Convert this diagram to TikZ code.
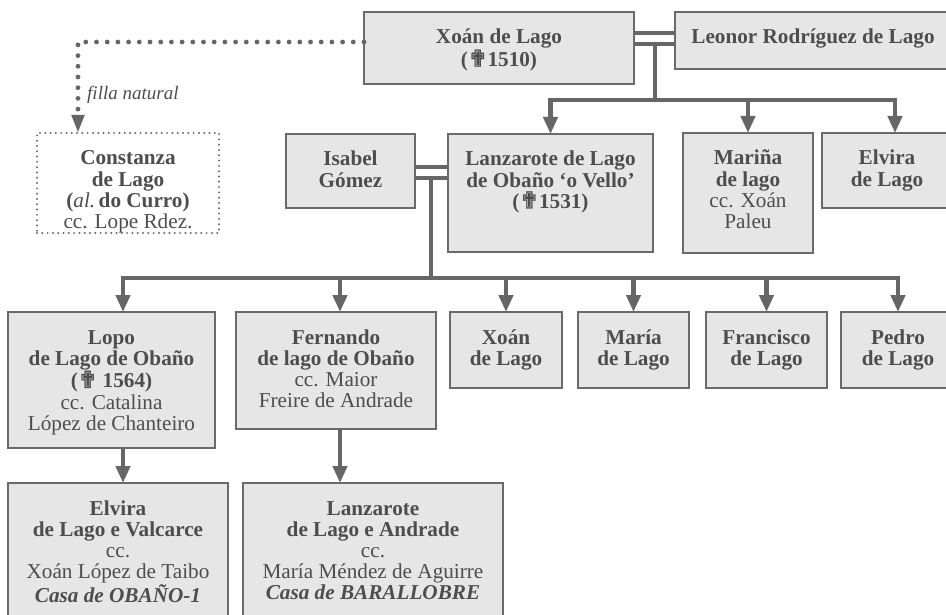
\documentclass[tikz,border=0pt]{standalone}
\usepackage{fontspec}
\setmainfont{Liberation Serif}
\newfontfamily\crossfont{DejaVu Sans}[Scale=1.1, FakeBold=1.2]
\usetikzlibrary{arrows.meta}

\definecolor{boxfill}{HTML}{E6E6E6}
\definecolor{boxline}{HTML}{6A6A6A}
\definecolor{inkc}{HTML}{4D4D4D}
\definecolor{linkc}{HTML}{666666}

% obituary cross
\newcommand\dcross{{\crossfont ✟}}
% fixed-size cell, text hung from the top edge
\newcommand\famcell[3]{\parbox[c][#2][t]{#1}{\centering\rule{0pt}{32pt}#3\par}}

\tikzset{
  famb/.style={draw=boxline, fill=boxfill, line width=2.4pt, inner sep=0pt,
    outer sep=0pt, anchor=north west, text=inkc,
    font=\fontsize{21.2}{21.2}\selectfont\bfseries},
  natb/.style={famb, fill=none, draw=boxline, line width=2.2pt,
    dash pattern=on 0pt off 5.3pt, line cap=round},
  link/.style={draw=linkc, line width=4.6pt},
  kin/.style={link, -{Triangle[width=14pt,length=17pt]}},
  wed/.style={draw=linkc, line width=4.3pt},
  natl/.style={draw=linkc, line width=4.8pt, dash pattern=on 0pt off 10.7pt,
    line cap=round, -{Triangle[width=12pt,length=18pt]}},
}

\begin{document}
\begin{tikzpicture}[x=1pt,y=-1pt]
\useasboundingbox[fill=white] (0,0) rectangle (946,615);

% generation I
\node[famb] (x0) at (364,12) {\famcell{270pt}{72pt}{Xoán de Lago\\(\dcross1510)}};
\node[famb] (l0) at (675,12) {\famcell{276pt}{57pt}{Leonor Rodríguez de Lago}};

% generation II
\node[natb] (cz) at (37,133) {\famcell{182pt}{100pt}{Constanza\\de Lago\\(\textit{\mdseries al.}\,do Curro)\\\mdseries cc. Lope Rdez.}};
\node[famb] (ig) at (286,134) {\famcell{129pt}{74pt}{Isabel\\Gómez}};
\node[famb] (lz) at (448,134) {\famcell{205pt}{118pt}{Lanzarote de Lago\\de Obaño ‘o Vello’\\(\dcross1531)}};
\node[famb] (ma) at (683,133) {\famcell{130pt}{120pt}{Mariña\\de lago\\\mdseries cc. Xoán\\Paleu}};
\node[famb] (el) at (822,133) {\famcell{130pt}{75pt}{Elvira\\de Lago}};

% generation III
\node[famb] (lp) at (8,312) {\famcell{207pt}{136pt}{Lopo\\de Lago de Obaño\\(\dcross\ 1564)\\\mdseries cc. Catalina\\López de Chanteiro}};
\node[famb] (fe) at (236,312) {\famcell{200pt}{117pt}{Fernando\\de lago de Obaño\\\mdseries cc. Maior\\Freire de Andrade}};
\node[famb] (xo) at (450,312) {\famcell{112pt}{76pt}{Xoán\\de Lago}};
\node[famb] (mr) at (578,312) {\famcell{111pt}{76pt}{María\\de Lago}};
\node[famb] (fr) at (706,312) {\famcell{121pt}{76pt}{Francisco\\de Lago}};
\node[famb] (pe) at (841,312) {\famcell{114pt}{76pt}{Pedro\\de Lago}};

% generation IV
\node[famb] (ev) at (8,483) {\famcell{220pt}{140pt}{Elvira\\de Lago e Valcarce\\{\mdseries cc.\\Xoán López de Taibo}\\\itshape Casa de OBAÑO-1}};
\node[famb] (lb) at (243,483) {\famcell{260pt}{140pt}{Lanzarote\\de Lago e Andrade\\{\mdseries cc.\\María Méndez de Aguirre}\\\itshape Casa de BARALLOBRE}};

% natural daughter
\draw[natl] (x0.west |- 0,42) -| (cz.north -| 78,0);
\node[font=\fontsize{19}{19}\selectfont\itshape, text=inkc, anchor=base west,
  inner sep=0pt] (fn) at (87,100) {filla natural};

% marriage Xoán -- Leonor and their children
\draw[wed] (x0.east |- 0,33) -- (l0.west |- 0,33);
\draw[wed] (x0.east |- 0,44) -- (l0.west |- 0,44);
\coordinate (w1) at (655,44);
\coordinate (j1) at (655,100);
\draw[link] (w1) -- (j1);
\draw[kin] (j1) -| (lz.north);
\draw[kin] (j1) -| (ma.north);
\draw[kin] (j1) -| ([xshift=8pt]el.north);

% marriage Isabel -- Lanzarote and their children
\draw[wed] (ig.east |- 0,167) -- (lz.west |- 0,167);
\draw[wed] (ig.east |- 0,178) -- (lz.west |- 0,178);
\coordinate (w2) at (431,178);
\coordinate (j2) at (431,278);
\draw[link] (w2) -- (j2);
\draw[kin] (j2) -| (lp.north -| 123,0);
\draw[kin] (j2) -| (fe.north -| 340,0);
\draw[kin] (j2) -| (xo.north);
\draw[kin] (j2) -| (mr.north);
\draw[kin] (j2) -| (fr.north);
\draw[kin] (j2) -| (pe.north);

% next generation
\draw[kin] (lp.south -| 123,0) -- (ev.north -| 123,0);
\draw[kin] (fe.south -| 340,0) -- (lb.north -| 340,0);
\end{tikzpicture}
\end{document}
